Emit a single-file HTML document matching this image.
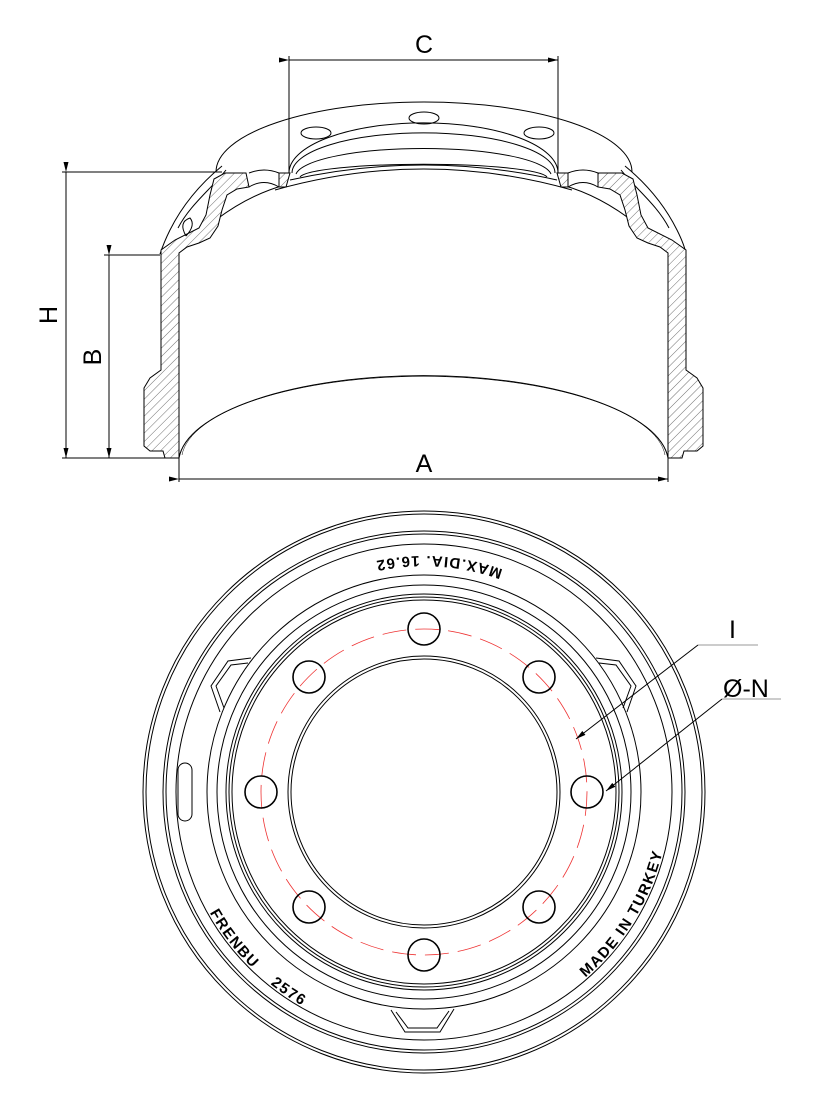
<!DOCTYPE html>
<html><head><meta charset="utf-8"><style>html,body{margin:0;padding:0;background:#fff}svg{display:block}</style></head>
<body>
<svg width="814" height="1107" viewBox="0 0 814 1107" xmlns="http://www.w3.org/2000/svg" font-family="Liberation Sans, sans-serif">
<defs>
<pattern id="h" patternUnits="userSpaceOnUse" width="6" height="6" patternTransform="rotate(45)">
<rect width="6" height="6" fill="#fff"/><line x1="0" y1="0" x2="0" y2="6" stroke="#333" stroke-width="0.7"/>
</pattern>
<marker id="ar" markerWidth="10" markerHeight="6" refX="10" refY="3" orient="auto" markerUnits="userSpaceOnUse"><path d="M0,0.5 L10,3 L0,5.5 z" fill="#000"/></marker>
<path id="tp" d="M660,792 A236,236 0 0 0 188,792 A236,236 0 0 0 660,792"/>
<path id="bp" d="M178,792 A246,246 0 0 0 670,792 A246,246 0 0 0 178,792"/>
</defs>

<g fill="none" stroke="#000" stroke-width="1">
<path d="M216,172 A208,70 0 0 1 632,172"/>
<path d="M222,166 C205,180 185,200 170,230 C165,240 162,248 160,254"/>
<path d="M226,170 C210,190 190,205 178,228"/>
<path d="M625,166 C642,180 662,200 677,230 C682,240 685,248 686,254"/>
<path d="M621,170 C637,190 657,205 669,228"/>
<path d="M289,173 A134,50 0 0 1 558,173"/>
<path d="M292,173 A131,40 0 0 1 555,173"/>
<path d="M296,174 A128,28 0 0 1 551,174"/>
<path d="M300,177 A124,14 0 0 1 547,177"/>
<path d="M290,180 Q424,150 557,180"/>
<path d="M275,190 Q424,148 572,190"/>
<path d="M180,252 Q230,200 285,185"/>
<path d="M667,252 Q617,200 562,185"/>
<ellipse cx="424" cy="118" rx="15" ry="6"/>
<ellipse cx="316" cy="133" rx="15" ry="6"/>
<ellipse cx="539" cy="133" rx="15" ry="6"/>
<path d="M179,458 A245,88 0 0 1 668,458"/>
<path d="M182,455 A242,84 0 0 1 665,455" stroke-width="0.5"/>
</g>
<g stroke="#000" stroke-width="1" fill="url(#h)">
<path d="M598,173 L622,173 L633,179 L637,195 L641,215 L648,228 L672,240 L686,250 L686,370 L697,378 L703,388 L703,446 L697,451 L684,451 L682,458 L668,458 L668,253 L660,247 L648,243 L637,238 L629,226 L625,210 L620,195 L610,189 L598,187 Z"/>
<path d="M557,173 L568,173 L568,187 L561,187 Z"/>
<path d="M246,173 L225,173 L214,179 L210,195 L206,215 L199,228 L175,240 L161,250 L161,370 L150,378 L144,388 L144,446 L150,451 L163,451 L165,458 L179,458 L179,253 L187,247 L199,243 L210,238 L218,226 L222,210 L227,195 L237,189 L249,187 Z"/>
<path d="M290,173 L279,173 L279,187 L286,187 Z"/>
</g>
<g fill="none" stroke="#000" stroke-width="1">
<path d="M568,173 Q583,167 598,173 M568,187 Q583,178 598,187"/>
<path d="M279,173 Q264,167 249,173 M279,187 Q264,178 249,187"/>
<path d="M186,236 Q178,222 190,218 Q196,225 186,236"/>
</g>

<g stroke="#000" stroke-width="1" fill="none">
<line x1="289" y1="56" x2="289" y2="173"/>
<line x1="558" y1="56" x2="558" y2="173"/>
<line x1="289" y1="60" x2="558" y2="60" marker-end="url(#ar)" marker-start="url(#ar)"/>
<line x1="62" y1="172" x2="222" y2="172"/>
<line x1="62" y1="458" x2="177" y2="458"/>
<line x1="66" y1="172" x2="66" y2="458" marker-end="url(#ar)" marker-start="url(#ar)"/>
<line x1="104" y1="255" x2="160" y2="255"/>
<line x1="109" y1="255" x2="109" y2="458" marker-end="url(#ar)" marker-start="url(#ar)"/>
<line x1="179" y1="458" x2="179" y2="482"/>
<line x1="668" y1="458" x2="668" y2="482"/>
<line x1="179" y1="479" x2="668" y2="479" marker-end="url(#ar)" marker-start="url(#ar)"/>
</g>
<g font-size="25" fill="#000">
<text x="424" y="53" text-anchor="middle">C</text>
<text x="424" y="472" text-anchor="middle">A</text>
<text transform="translate(57,315) rotate(-90)" text-anchor="middle">H</text>
<text transform="translate(101,357) rotate(-90)" text-anchor="middle">B</text>
</g>

<g fill="none" stroke="#000" stroke-width="1">
<circle cx="424" cy="792" r="281"/>
<circle cx="424" cy="792" r="278"/>
<circle cx="424" cy="792" r="261"/>
<circle cx="424" cy="792" r="258"/>
<circle cx="424" cy="792" r="248"/>
<circle cx="424" cy="792" r="217"/>
<circle cx="424" cy="792" r="207"/>
<circle cx="424" cy="792" r="198"/>
<circle cx="424" cy="792" r="195"/>
<circle cx="424" cy="792" r="192"/>
<circle cx="424" cy="792" r="136"/>
<circle cx="424" cy="792" r="133"/>
</g>
<circle cx="424" cy="792" r="163" fill="none" stroke="#e33" stroke-width="0.8" stroke-dasharray="24,9"/>
<g fill="none" stroke="#000" stroke-width="1.6">
<circle cx="424" cy="629" r="16"/>
<circle cx="539" cy="677" r="16"/>
<circle cx="587" cy="792" r="16"/>
<circle cx="539" cy="907" r="16"/>
<circle cx="424" cy="955" r="16"/>
<circle cx="309" cy="907" r="16"/>
<circle cx="261" cy="792" r="16"/>
<circle cx="309" cy="677" r="16"/>
</g>
<g fill="none" stroke="#000" stroke-width="1">
<path d="M251,658 L228,661 L211,686 L220,712"/>
<path d="M248,663 L231,665 L216,686 L224,708"/>
<path d="M596,658 L619,661 L636,686 L627,712"/>
<path d="M599,663 L616,665 L631,686 L623,708"/>
<path d="M391,1010 L405,1032 L440,1032 L454,1009"/>
<path d="M396,1012 L408,1028 L437,1028 L449,1011"/>
<rect x="178" y="763" width="14" height="58" rx="7"/>
</g>
<g font-size="15" font-weight="bold" fill="#000" letter-spacing="1.5">
<text><textPath href="#tp" startOffset="290">MAX.DIA. 16.62</textPath></text>
<text><textPath href="#bp" startOffset="126" xml:space="preserve">FRENBU    2576</textPath></text>
<text><textPath href="#bp" startOffset="562">MADE IN TURKEY</textPath></text>
</g>
<g stroke-width="1" fill="none">
<line x1="698" y1="645" x2="758" y2="645" stroke="#999"/>
<line x1="698" y1="645" x2="576" y2="739" stroke="#000" marker-end="url(#ar)"/>
<line x1="722" y1="699" x2="781" y2="699" stroke="#999"/>
<line x1="722" y1="699" x2="606" y2="791" stroke="#000" marker-end="url(#ar)"/>
</g>
<g font-size="25" fill="#000">
<text x="729" y="638">I</text>
<text x="723" y="697">Ø-N</text>
</g>
</svg>
</body></html>
